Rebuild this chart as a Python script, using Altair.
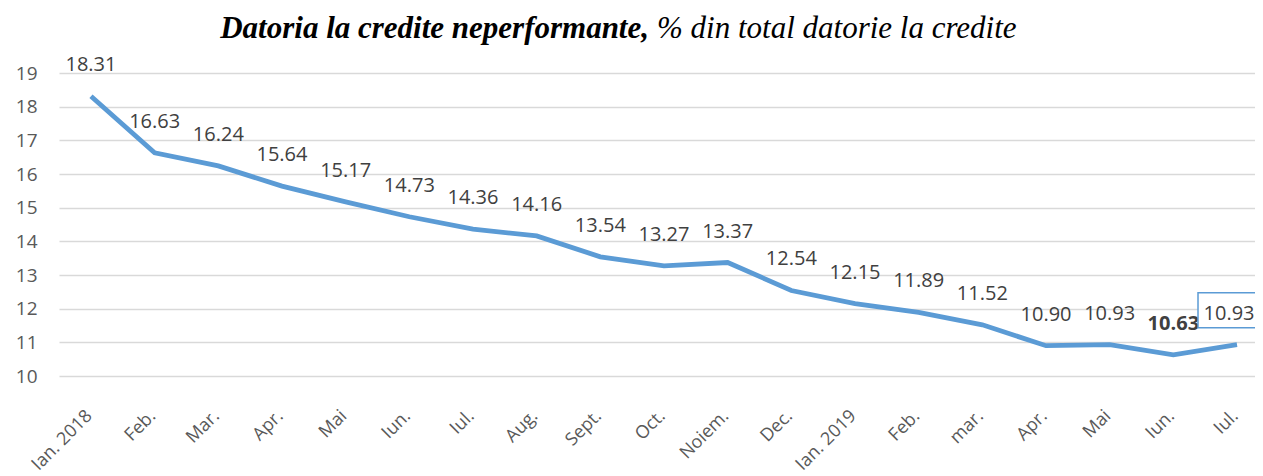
import altair as alt
import pandas as pd

months = ["Ian. 2018", "Feb.", "Mar.", "Apr.", "Mai", "Iun.", "Iul.", "Aug.",
          "Sept.", "Oct.", "Noiem.", "Dec.", "Ian. 2019", "Feb.", "mar.",
          "Apr.", "Mai", "Iun.", "Iul."]
values = [18.31, 16.63, 16.24, 15.64, 15.17, 14.73, 14.36, 14.16, 13.54, 13.27,
          13.37, 12.54, 12.15, 11.89, 11.52, 10.90, 10.93, 10.63, 10.93]
y_ticks = [10, 11, 12, 13, 14, 15, 16, 17, 18, 19]
title_bold = "Datoria la credite neperformante,"
title_rest = "% din total datorie la credite"

n = len(months)
df = pd.DataFrame({"i": list(range(n)), "month": months, "value": values})
df["kind"] = "normal"
df.loc[n - 2, "kind"] = "bold"
df.loc[n - 1, "kind"] = "box"

label_expr = "[" + ",".join("'" + m + "'" for m in months) + "][datum.value]"

LINE = "#5B9BD5"
TXT = "#404040"
FONT = "Open Sans"

x = alt.X("i:O", title=None,
          scale=alt.Scale(type="point", padding=0.3925, align=0.64),
          axis=alt.Axis(labelExpr=label_expr, labelAngle=-45, labelAlign="right",
                        labelBaseline="middle", labelPadding=37, labelOffset=-2,
                        ticks=False, domain=False, grid=False,
                        labelFont=FONT, labelFontSize=18, labelColor="#595959"))
y = alt.Y("value:Q", title=None,
          scale=alt.Scale(domain=[10, 19], nice=False, zero=False),
          axis=alt.Axis(values=y_ticks, ticks=False, domain=False,
                        gridColor="#d9d9d9", gridWidth=1.3,
                        labelFont=FONT, labelFontSize=19, labelColor="#595959",
                        labelPadding=22))

base = alt.Chart(df)

line = base.mark_line(color=LINE, strokeWidth=4.8).encode(x=x, y=y)

labels = base.transform_filter("datum.kind == 'normal'").mark_text(
    font=FONT, fontSize=20, color=TXT, dy=-25, baseline="alphabetic"
).encode(x=x, y=y, text=alt.Text("value:Q", format=".2f"))

labels_bold = base.transform_filter("datum.kind == 'bold'").mark_text(
    font=FONT, fontSize=20, fontWeight="bold", color=TXT, dy=-25, baseline="alphabetic"
).encode(x=x, y=y, text=alt.Text("value:Q", format=".2f"))

box = base.transform_filter("datum.kind == 'box'").mark_rect(
    fill="white", stroke=LINE, strokeWidth=1.5,
    xOffset=-39, x2Offset=36, yOffset=-52, y2Offset=-17
).encode(x=x, x2=alt.X2("i:O"), y=y, y2=alt.Y2("value:Q"))

labels_box = base.transform_filter("datum.kind == 'box'").mark_text(
    font=FONT, fontSize=20, color=TXT, dy=-25, dx=-8, baseline="alphabetic"
).encode(x=x, y=y, text=alt.Text("value:Q", format=".2f"))

title_df = pd.DataFrame({"a": [title_bold], "b": [title_rest]})
t1 = alt.Chart(title_df).mark_text(
    font="Liberation Serif", fontSize=31, fontStyle="italic", fontWeight="bold",
    align="right", baseline="alphabetic", color="black"
).encode(x=alt.value(590), y=alt.value(-35), text="a:N")
t2 = alt.Chart(title_df).mark_text(
    font="Liberation Serif", fontSize=31, fontStyle="italic",
    align="left", baseline="alphabetic", color="black"
).encode(x=alt.value(598), y=alt.value(-35), text="b:N")

chart = alt.layer(line, labels, labels_bold, box, labels_box, t1, t2).properties(
    width=1196, height=303,
    autosize=alt.AutoSizeParams(type="none"),
    padding={"left": 51, "top": 65, "right": 0, "bottom": 100},
).configure_view(stroke=None)

chart.save("out.html", embed_options={"renderer": "svg", "actions": False})
